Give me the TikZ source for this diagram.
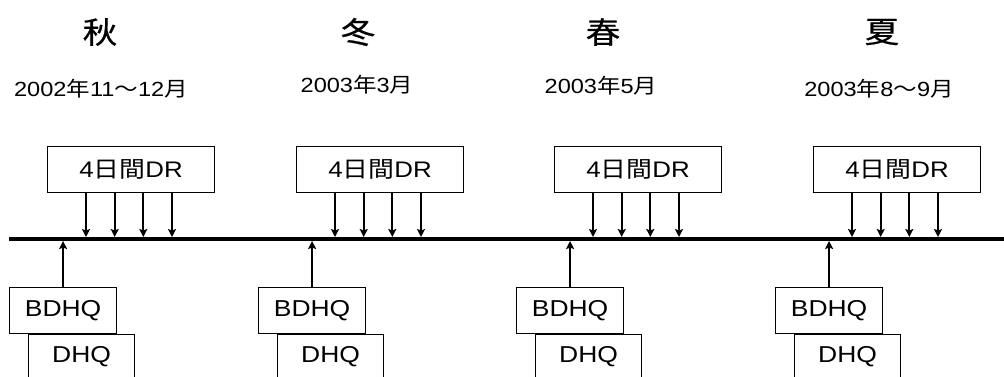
\documentclass[tikz,border=0pt]{standalone}
\usepackage{fontspec}
\usepackage{graphicx}
\setmainfont{Liberation Sans}
\newfontfamily\cjk{Noto Sans CJK JP}
\newfontfamily\cjkb[FakeBold=0.6]{Noto Sans CJK JP}
\usetikzlibrary{arrows.meta,calc}
\newcommand\jpc[1]{{\cjk #1}}
\newcommand\hstr[1]{\scalebox{1.15}[1]{#1}}
\begin{document}
\begin{tikzpicture}[x=1pt,y=-1pt,
  box/.style={draw, line width=1.2pt, fill=white, inner sep=0pt, minimum height=45.5pt, font=\fontsize{23}{23}\selectfont},
  drbox/.style={box, minimum width=167pt, font=\fontsize{22.5}{22.5}\selectfont},
  qbox/.style={box, minimum width=107pt},
  season/.style={inner sep=0pt, font=\fontsize{30}{30}\selectfont\cjkb},
  datelbl/.style={inner sep=0pt, font=\fontsize{20.5}{20.5}\selectfont},
  arr/.style={line width=2pt, -{Stealth[length=8pt,width=8pt,inset=1.5pt]}},
  tline/.style={line width=4pt}]
\useasboundingbox (0,0) rectangle (1004,376);
\coordinate (tlL) at (9,239);
\coordinate (tlR) at (1004,239);
\coordinate (tlT) at (0,237);
\coordinate (tlB) at (0,241);
\draw[tline] (tlL) -- (tlR);
\foreach \i/\s/\sx/\d/\dx/\dy/\drl/\ql in {
  1/秋/100/{2002\jpc{年}11\jpc{～}12\jpc{月}}/101/88.5/47/9,
  2/冬/358/{2003\jpc{年}3\jpc{月}}/357/85/296/258,
  3/春/603/{2003\jpc{年}5\jpc{月}}/601/85.5/554/516,
  4/夏/882/{2003\jpc{年}8\jpc{～}9\jpc{月}}/879/89/813/775}{
  \node[season] (s\i) at (\sx,32) {\hstr{\s}};
  \node[datelbl] (d\i) at (\dx,\dy) {\hstr{\d}};
  \node[drbox, anchor=north west] (dr\i) at (\drl,146) {\hstr{4\jpc{日間}DR}};
  \foreach \o in {39,67.7,96.3,125}
    \draw[arr] ([xshift=\o pt]dr\i.south west) -- ([xshift=\o pt]dr\i.south west |- tlT);
  \node[qbox, anchor=north west] (bq\i) at (\ql,287) {\hstr{BDHQ}};
  \node[qbox, minimum width=106pt, anchor=north west] (dq\i) at ($(bq\i.south west)+(19,0)$) {\hstr{DHQ}};
  \draw[arr] (bq\i.north) -- (bq\i.north |- tlB);
}
\end{tikzpicture}
\end{document}
